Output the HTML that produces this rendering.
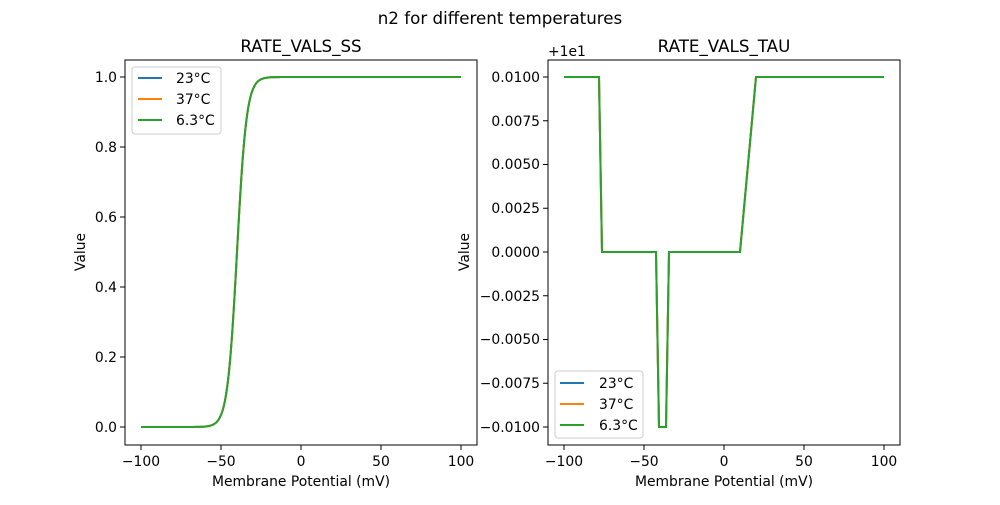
<!DOCTYPE html>
<html><head><meta charset="utf-8"><style>
body{margin:0;background:#fff}
text{font-family:"DejaVu Sans","Liberation Sans",sans-serif;font-size:13.9px;fill:#000}
</style></head><body>
<svg width="1000" height="500" xmlns="http://www.w3.org/2000/svg">
<text x="500" y="24" text-anchor="middle" style="font-size:16.7px">n2 for different temperatures</text>
<!-- left axes -->
<text x="301" y="52" text-anchor="middle" style="font-size:16.7px">RATE_VALS_SS</text>
<g stroke="#000" stroke-width="1">
<line x1="141" y1="445" x2="141" y2="450"/><line x1="221" y1="445" x2="221" y2="450"/><line x1="301" y1="445" x2="301" y2="450"/><line x1="381" y1="445" x2="381" y2="450"/><line x1="461" y1="445" x2="461" y2="450"/>
<line x1="120" y1="427" x2="125" y2="427"/><line x1="120" y1="357" x2="125" y2="357"/><line x1="120" y1="287" x2="125" y2="287"/><line x1="120" y1="217" x2="125" y2="217"/><line x1="120" y1="147" x2="125" y2="147"/><line x1="120" y1="77" x2="125" y2="77"/>
</g>
<g text-anchor="middle">
<text x="141" y="466">−100</text><text x="221" y="466">−50</text><text x="301" y="466">0</text><text x="381" y="466">50</text><text x="461" y="466">100</text>
<text x="301" y="486">Membrane Potential (mV)</text>
</g>
<g text-anchor="end">
<text x="117" y="432">0.0</text><text x="117" y="362">0.2</text><text x="117" y="292">0.4</text><text x="117" y="222">0.6</text><text x="117" y="152">0.8</text><text x="117" y="82">1.0</text>
</g>
<text transform="translate(85,252) rotate(-90)" text-anchor="middle">Value</text>
<g fill="none" stroke-width="2">
<path id="ss1" stroke="#1f77b4"/><path id="ss2" stroke="#ff7f0e"/><path id="ss3" stroke="#2ca02c"/>
</g>
<rect x="125" y="60" width="352" height="385" fill="none" stroke="#000" stroke-width="1"/>
<rect x="132" y="67" width="89" height="67" rx="3" fill="#fff" fill-opacity="0.8" stroke="#ccc"/>
<line x1="138" y1="78" x2="162" y2="78" stroke="#1f77b4" stroke-width="2"/><text x="176" y="83">23°C</text>
<line x1="138" y1="99" x2="162" y2="99" stroke="#ff7f0e" stroke-width="2"/><text x="176" y="104">37°C</text>
<line x1="138" y1="120" x2="162" y2="120" stroke="#2ca02c" stroke-width="2"/><text x="176" y="125">6.3°C</text>
<!-- right axes -->
<text x="724" y="52" text-anchor="middle" style="font-size:16.7px">RATE_VALS_TAU</text>
<text x="548" y="56">+1e1</text>
<g stroke="#000" stroke-width="1">
<line x1="564" y1="445" x2="564" y2="450"/><line x1="644" y1="445" x2="644" y2="450"/><line x1="724" y1="445" x2="724" y2="450"/><line x1="804" y1="445" x2="804" y2="450"/><line x1="884" y1="445" x2="884" y2="450"/>
<line x1="543" y1="77" x2="548" y2="77"/><line x1="543" y1="120.75" x2="548" y2="120.75"/><line x1="543" y1="164.5" x2="548" y2="164.5"/><line x1="543" y1="208.25" x2="548" y2="208.25"/><line x1="543" y1="252" x2="548" y2="252"/><line x1="543" y1="295.75" x2="548" y2="295.75"/><line x1="543" y1="339.5" x2="548" y2="339.5"/><line x1="543" y1="383.25" x2="548" y2="383.25"/><line x1="543" y1="427" x2="548" y2="427"/>
</g>
<g text-anchor="middle">
<text x="564" y="466">−100</text><text x="644" y="466">−50</text><text x="724" y="466">0</text><text x="804" y="466">50</text><text x="884" y="466">100</text>
<text x="724" y="486">Membrane Potential (mV)</text>
</g>
<g text-anchor="end">
<text x="540" y="82">0.0100</text><text x="540" y="126">0.0075</text><text x="540" y="169">0.0050</text><text x="540" y="213">0.0025</text><text x="540" y="257">0.0000</text><text x="540" y="301">−0.0025</text><text x="540" y="344">−0.0050</text><text x="540" y="388">−0.0075</text><text x="540" y="432">−0.0100</text>
</g>
<text transform="translate(469,252) rotate(-90)" text-anchor="middle">Value</text>
<g fill="none" stroke-width="2">
<path stroke="#1f77b4" d="M564,77 L599,77 L602,252 L656,252 L659,427 L666,427 L669,252 L740,252 L756,77 L884,77"/>
<path stroke="#ff7f0e" d="M564,77 L599,77 L602,252 L656,252 L659,427 L666,427 L669,252 L740,252 L756,77 L884,77"/>
<path stroke="#2ca02c" d="M564,77 L599,77 L602,252 L656,252 L659,427 L666,427 L669,252 L740,252 L756,77 L884,77"/>
</g>
<rect x="548" y="60" width="352" height="385" fill="none" stroke="#000" stroke-width="1"/>
<rect x="555" y="371" width="88" height="67" rx="3" fill="#fff" fill-opacity="0.8" stroke="#ccc"/>
<line x1="560" y1="383" x2="584" y2="383" stroke="#1f77b4" stroke-width="2"/><text x="599" y="388">23°C</text>
<line x1="560" y1="404" x2="584" y2="404" stroke="#ff7f0e" stroke-width="2"/><text x="599" y="409">37°C</text>
<line x1="560" y1="425" x2="584" y2="425" stroke="#2ca02c" stroke-width="2"/><text x="599" y="430">6.3°C</text>
</svg>
<script>
var d="";
for(var v=-100;v<=100;v+=0.5){var s=1/(1+Math.exp(-(v+40)/3));var x=141+(v+100)*1.6;var y=427-350*s;d+=(d?"L":"M")+x.toFixed(1)+","+y.toFixed(1);}
["ss1","ss2","ss3"].forEach(function(i){document.getElementById(i).setAttribute("d",d);});
</script>
</body></html>
